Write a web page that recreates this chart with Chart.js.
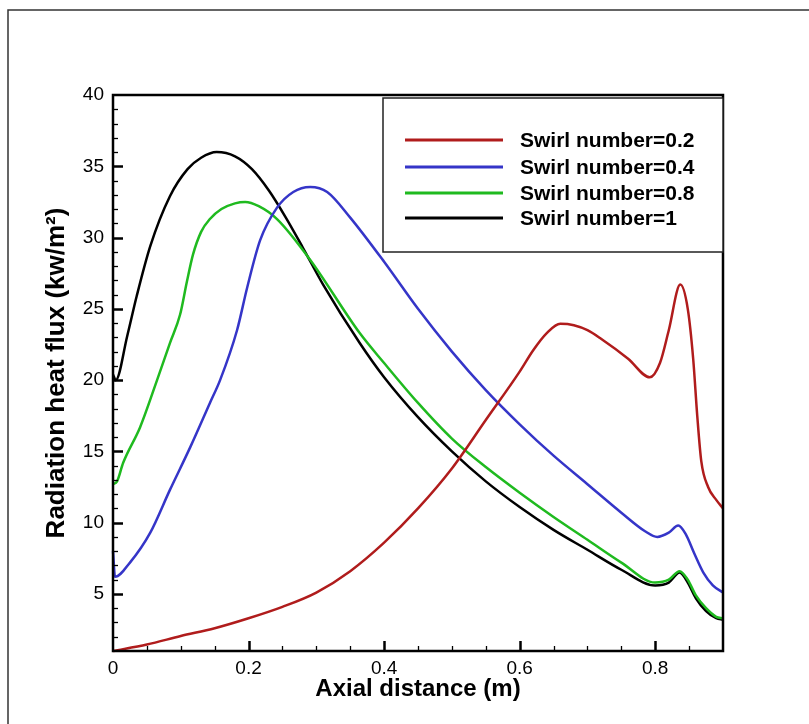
<!DOCTYPE html>
<html>
<head>
<meta charset="utf-8">
<script src="https://cdn.jsdelivr.net/npm/chart.js@4.4.1/dist/chart.umd.min.js"></script>
<style>
  html, body { margin: 0; padding: 0; background: #fff; }
  #wrap { width: 809px; height: 724px; position: relative; }
</style>
</head>
<body>
<div id="wrap"><canvas id="chartFlux"></canvas></div>
<script>
// values (x in m, y in kw/m2)
var seriesLabels = ["Swirl number=0.2", "Swirl number=0.4", "Swirl number=0.8", "Swirl number=1"];
var seriesColors = ["#b01c1c", "#3535c8", "#1fba1f", "#000000"];

var xSwirl02 = [0, 0.05, 0.1, 0.15, 0.2, 0.25, 0.3, 0.35, 0.4, 0.45, 0.5, 0.55, 0.6, 0.62, 0.64, 0.66, 0.68, 0.7, 0.72, 0.76, 0.792, 0.807, 0.82, 0.837, 0.848, 0.856, 0.862, 0.868, 0.878, 0.89, 0.9];
var ySwirl02 = [1.0, 1.45, 2.05, 2.6, 3.3, 4.1, 5.1, 6.6, 8.6, 11.0, 13.8, 17.2, 20.6, 22.1, 23.3, 23.95, 23.85, 23.5, 22.9, 21.5, 20.2, 21.2, 23.5, 26.7, 25.0, 21.5, 17.5, 14.3, 12.5, 11.6, 11.0];

var xSwirl04 = [0, 0.003, 0.025, 0.055, 0.084, 0.114, 0.143, 0.158, 0.183, 0.198, 0.217, 0.242, 0.266, 0.291, 0.316, 0.35, 0.4, 0.45, 0.5, 0.55, 0.6, 0.65, 0.7, 0.75, 0.785, 0.803, 0.82, 0.834, 0.845, 0.858, 0.871, 0.885, 0.9];
var ySwirl04 = [8.0, 6.2, 7.2, 9.3, 12.3, 15.3, 18.4, 20.0, 23.5, 26.5, 29.8, 32.1, 33.2, 33.55, 33.2, 31.4, 28.3, 25.0, 22.0, 19.3, 16.9, 14.7, 12.7, 10.7, 9.4, 9.0, 9.3, 9.8, 9.2, 7.8, 6.5, 5.6, 5.1];

var xSwirl08 = [0, 0.006, 0.015, 0.04, 0.065, 0.084, 0.099, 0.109, 0.118, 0.13, 0.143, 0.16, 0.18, 0.195, 0.215, 0.242, 0.29, 0.364, 0.4, 0.45, 0.5, 0.55, 0.6, 0.65, 0.7, 0.75, 0.8, 0.82, 0.836, 0.848, 0.86, 0.875, 0.89, 0.9];
var ySwirl08 = [12.7, 12.9, 14.2, 16.7, 20.0, 22.6, 24.6, 26.9, 28.8, 30.4, 31.3, 32.0, 32.4, 32.5, 32.2, 31.3, 28.5, 23.3, 21.2, 18.4, 15.9, 13.9, 12.1, 10.4, 8.8, 7.2, 5.8, 6.0, 6.6, 6.0, 4.9, 4.0, 3.4, 3.3];

var xSwirl1 = [0, 0.004, 0.021, 0.035, 0.055, 0.084, 0.11, 0.13, 0.153, 0.18, 0.205, 0.23, 0.255, 0.28, 0.31, 0.364, 0.4, 0.45, 0.5, 0.55, 0.6, 0.65, 0.7, 0.75, 0.8, 0.82, 0.836, 0.848, 0.86, 0.875, 0.89, 0.9];
var ySwirl1 = [20.4, 20.0, 23.1, 25.9, 29.4, 32.9, 34.8, 35.6, 36.0, 35.7, 34.8, 33.3, 31.4, 29.3, 26.7, 22.6, 20.2, 17.4, 15.0, 12.9, 11.1, 9.5, 8.1, 6.7, 5.6, 5.8, 6.5, 5.8, 4.7, 3.8, 3.3, 3.2];

var xTickValues = [0, 0.2, 0.4, 0.6, 0.8];
var yTickValues = [5, 10, 15, 20, 25, 30, 35, 40];

var FONT = "'Liberation Sans', Arial, sans-serif";

function toPoints(xs, ys) {
  return xs.map(function (x, i) { return { x: x, y: ys[i] }; });
}

var allX = [xSwirl02, xSwirl04, xSwirl08, xSwirl1];
var allY = [ySwirl02, ySwirl04, ySwirl08, ySwirl1];

var datasets = seriesLabels.map(function (label, i) {
  return {
    label: label,
    data: toPoints(allX[i], allY[i]),
    borderColor: seriesColors[i],
    backgroundColor: 'transparent',
    borderWidth: 2.5,
    pointRadius: 0,
    cubicInterpolationMode: 'monotone',
    clip: 4
  };
});

// frame of the plot, inward ticks, outer picture border and the boxed legend
var plotDecor = {
  id: 'plotDecor',
  afterDatasetsDraw: function (chart) {
    var ctx = chart.ctx, a = chart.chartArea;
    var xs = chart.scales.x, ys = chart.scales.y;
    ctx.save();
    ctx.strokeStyle = '#000';

    // x ticks every 0.05, major every 0.2
    for (var i = 1; i < 18; i++) {
      var px = Math.round(xs.getPixelForValue(i * 0.05)) + 0.5;
      var majorX = (i % 4 === 0);
      ctx.lineWidth = majorX ? 2.5 : 1.3;
      ctx.beginPath();
      ctx.moveTo(px, a.bottom);
      ctx.lineTo(px, a.bottom - (majorX ? 10 : 5));
      ctx.stroke();
    }
    // y ticks every 1, major every 5
    for (var v = 2; v < 40; v++) {
      var py = Math.round(ys.getPixelForValue(v)) + 0.5;
      var major = (v % 5 === 0);
      ctx.lineWidth = major ? 2.5 : 1.3;
      ctx.beginPath();
      ctx.moveTo(a.left, py);
      ctx.lineTo(a.left + (major ? 10 : 5), py);
      ctx.stroke();
    }

    // plot frame
    ctx.lineWidth = 2.5;
    ctx.strokeRect(a.left, a.top, a.right - a.left, a.bottom - a.top);

    // legend box
    var bx = 383, by = 98, bw = a.right - 383, bh = 154;
    ctx.fillStyle = '#fff';
    ctx.fillRect(bx, by, bw, bh);
    ctx.lineWidth = 1.5;
    ctx.strokeStyle = '#222';
    ctx.strokeRect(bx, by, bw, bh);
    var rows = [140, 167, 193, 218];
    ctx.font = 'bold 21px ' + FONT;
    ctx.textBaseline = 'middle';
    ctx.textAlign = 'left';
    chart.data.datasets.forEach(function (ds, k) {
      ctx.strokeStyle = ds.borderColor;
      ctx.lineWidth = 3;
      ctx.beginPath();
      ctx.moveTo(405, rows[k]);
      ctx.lineTo(503, rows[k]);
      ctx.stroke();
      ctx.fillStyle = '#000';
      ctx.fillText(ds.label, 520, rows[k] + 1);
    });
    ctx.restore();
  },
  beforeDraw: function (chart) {
    var ctx = chart.ctx;
    ctx.save();
    ctx.fillStyle = '#fff';
    ctx.fillRect(0, 0, chart.width, chart.height);
    ctx.strokeStyle = '#333';
    ctx.lineWidth = 1.5;
    ctx.beginPath();
    ctx.moveTo(8, chart.height);
    ctx.lineTo(8, 10);
    ctx.lineTo(chart.width, 10);
    ctx.stroke();
    ctx.restore();
  }
};

var ctx1 = document.getElementById('chartFlux').getContext('2d');
new Chart(ctx1, {
  type: 'line',
  data: { datasets: datasets },
  plugins: [plotDecor],
  options: {
    responsive: true,
    maintainAspectRatio: false,
    animation: false,
    layout: { padding: { left: 0, right: 86, top: 95, bottom: 0 } },
    plugins: {
      legend: { display: false },
      tooltip: { enabled: false }
    },
    scales: {
      x: {
        type: 'linear',
        min: 0,
        max: 0.9,
        afterBuildTicks: function (scale) {
          scale.ticks = xTickValues.map(function (v) { return { value: v }; });
        },
        afterFit: function (scale) { scale.height = 73; },
        grid: { display: false, drawTicks: false },
        border: { display: false },
        ticks: {
          color: '#000',
          padding: 6,
          maxRotation: 0,
          font: { size: 19, family: FONT },
          callback: function (v) { return String(+v.toFixed(1)); }
        },
        title: {
          display: true,
          text: 'Axial distance (m)',
          color: '#000',
          font: { size: 24, weight: 'bold', family: FONT },
          padding: { top: 0, bottom: 20 }
        }
      },
      y: {
        type: 'linear',
        min: 1,
        max: 40,
        afterBuildTicks: function (scale) {
          scale.ticks = yTickValues.map(function (v) { return { value: v }; });
        },
        afterFit: function (scale) { scale.width = 113; },
        grid: { display: false, drawTicks: false },
        border: { display: false },
        ticks: {
          color: '#000',
          padding: 9,
          font: { size: 19, family: FONT }
        },
        title: {
          display: true,
          text: 'Radiation heat flux (kw/m\u00B2)',
          color: '#000',
          font: { size: 26, weight: 'bold', family: FONT },
          padding: { top: 41, bottom: 0 }
        }
      }
    }
  }
});
</script>
</body>
</html>
